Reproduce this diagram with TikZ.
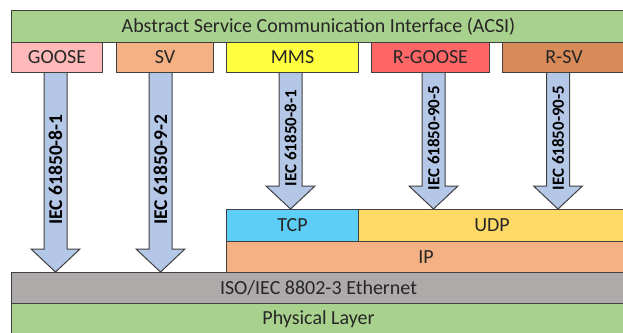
\documentclass[tikz,border=0pt]{standalone}
\usepackage{fontspec}
\setmainfont{Carlito}
\usetikzlibrary{calc}

\definecolor{acsigreen}{HTML}{A9D18E}
\definecolor{goosepink}{HTML}{FFB9B9}
\definecolor{svorange}{HTML}{F4B183}
\definecolor{mmsyellow}{HTML}{FFFF40}
\definecolor{rgoosered}{HTML}{FF6666}
\definecolor{rsvbrown}{HTML}{D88A58}
\definecolor{tcpblue}{HTML}{5DCEF5}
\definecolor{udpgold}{HTML}{FFD966}
\definecolor{ethgray}{HTML}{AEAAAA}
\definecolor{arrowblue}{HTML}{B4C7E7}
\definecolor{edgegray}{HTML}{404040}
\definecolor{textgray}{HTML}{262626}

\tikzset{
  layer/.style={draw=edgegray, line width=1pt, anchor=north west, inner sep=0pt,
    text=textgray, font=\fontsize{20}{24}\selectfont},
  stackarrow/.style={draw=edgegray, line width=1pt, fill=arrowblue},
  stdlabel/.style={rotate=90, inner sep=0pt, text=black}
}

\begin{document}
\begin{tikzpicture}[x=1pt, y=-1pt]
  \path[use as bounding box, clip] (0,0) rectangle (623,332);

  % ACSI and the protocols on top of it
  \node[layer, fill=acsigreen, minimum width=614pt, minimum height=32pt] (acsi) at (11,10) {Abstract Service Communication Interface (ACSI)};
  \node[layer, fill=goosepink, minimum width=91pt, minimum height=30pt] (goose) at (11,42) {GOOSE};
  \node[layer, fill=svorange, minimum width=97pt, minimum height=30pt] (sv) at (116,42) {SV};
  \node[layer, fill=mmsyellow, minimum width=132pt, minimum height=30pt] (mms) at (226,42) {MMS};
  \node[layer, fill=rgoosered, minimum width=118pt, minimum height=30pt] (rgoose) at (371,42) {R-GOOSE};
  \node[layer, fill=rsvbrown, minimum width=123pt, minimum height=30pt] (rsv) at (502,42) {R-SV};

  % Transport and lower layers
  \node[layer, fill=tcpblue, minimum width=132pt, minimum height=32pt] (tcp) at (226,209) {TCP};
  \node[layer, fill=udpgold, minimum width=267pt, minimum height=32pt] (udp) at (358,209) {UDP};
  \node[layer, fill=svorange, minimum width=399pt, minimum height=31pt] (ip) at (226,241) {IP};
  \node[layer, fill=ethgray, minimum width=614pt, minimum height=31pt] (eth) at (11,272) {ISO/IEC 8802-3 Ethernet};
  \node[layer, fill=acsigreen, minimum width=614pt, minimum height=32pt] (phy) at (11,303) {Physical Layer};

  % Mapping arrows
  \foreach \src/\dst/\dx/\fs/\std in {goose/eth/-1.5/19.5/{IEC 61850-8-1}, sv/eth/-4.5/19.5/{IEC 61850-9-2},
      mms/tcp/-2/17/{IEC 61850-8-1}, rgoose/udp/3/17/{IEC 61850-90-5}, rsv/udp/-6/17/{IEC 61850-90-5}}{
    \coordinate (top) at ($(\src.south)+(\dx,0)$);
    \coordinate (tip) at (top |- \dst.north);
    \draw[stackarrow] ($(top)+(-11.5,0)$) -- ($(tip)+(-11.5,-23)$) -- ($(tip)+(-24.5,-23)$)
      -- (tip) -- ($(tip)+(24.5,-23)$) -- ($(tip)+(11.5,-23)$) -- ($(top)+(11.5,0)$);
    \node[stdlabel, font=\fontsize{\fs}{\fs}\selectfont\bfseries] at ($($(top)!0.5!(tip)$)+(0,-3)$) {\std};
  }
\end{tikzpicture}
\end{document}
